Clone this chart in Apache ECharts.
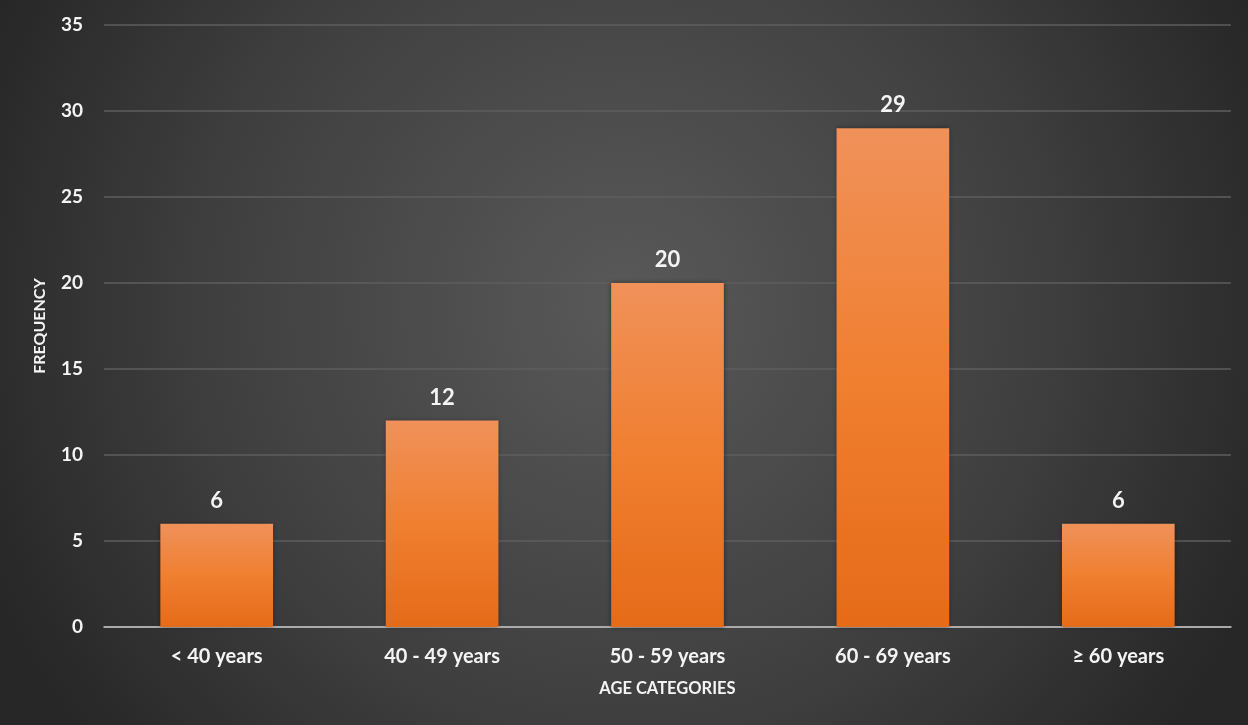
<!DOCTYPE html>
<html>
<head>
<meta charset="utf-8">
<script src="https://cdn.jsdelivr.net/npm/echarts@6/dist/echarts.min.js"></script>
<style>
  html, body { margin: 0; padding: 0; background: #2b2b2b; }
  #chart { width: 1248px; height: 725px; }
</style>
</head>
<body>
<div id="chart"></div>
<script>
// Age groups and patient counts
const categories = ['< 40 years', '40 - 49 years', '50 - 59 years', '60 - 69 years', '\u2265 60 years'];
const frequency = [6, 12, 20, 29, 6];
const yTicks = [0, 5, 10, 15, 20, 25, 30, 35];

const FONT = 'Lato, "Open Sans", "DejaVu Sans", sans-serif';
const TEXT = '#f4f4f4';
const chart = echarts.init(document.getElementById('chart'));

chart.setOption({
  backgroundColor: {
    type: 'radial', x: 0.5, y: 0.42, r: 0.95,
    colorStops: [
      { offset: 0, color: '#595959' },
      { offset: 0.6, color: '#3f3f3f' },
      { offset: 1, color: '#272727' }
    ]
  },
  animation: false,
  grid: { left: 104, right: 17, top: 25, bottom: 98 },
  xAxis: {
    type: 'category',
    data: categories,
    name: 'AGE CATEGORIES',
    nameLocation: 'middle',
    nameGap: 53,
    nameTextStyle: { color: TEXT, fontFamily: FONT, fontWeight: 'bold', fontSize: 16.5 },
    axisLine: { lineStyle: { color: '#c8c8c8', width: 1.5 } },
    axisTick: { show: false },
    axisLabel: { color: TEXT, fontFamily: FONT, fontWeight: 'bold', fontSize: 20, margin: 20 }
  },
  yAxis: {
    type: 'value',
    min: yTicks[0],
    max: yTicks[yTicks.length - 1],
    interval: yTicks[1] - yTicks[0],
    name: 'FREQUENCY',
    nameLocation: 'middle',
    nameGap: 56,
    nameRotate: 90,
    nameTextStyle: { color: TEXT, fontFamily: FONT, fontWeight: 'bold', fontSize: 16 },
    axisLine: { show: false },
    axisTick: { show: false },
    axisLabel: { color: TEXT, fontFamily: FONT, fontWeight: 'bold', fontSize: 19, margin: 21 },
    splitLine: { lineStyle: { color: '#5e5e5e', width: 1.5 } }
  },
  series: [{
    type: 'bar',
    data: frequency,
    barCategoryGap: '50%',
    itemStyle: {
      color: {
        type: 'linear', x: 0, y: 0, x2: 0, y2: 1,
        colorStops: [
          { offset: 0, color: '#f0915a' },
          { offset: 0.5, color: '#f07f30' },
          { offset: 1, color: '#e56b18' }
        ]
      },
      shadowColor: 'rgba(0,0,0,0.45)',
      shadowBlur: 5
    },
    label: {
      show: true,
      position: 'top',
      distance: 12,
      color: TEXT,
      fontFamily: FONT,
      fontWeight: 'bold',
      fontSize: 22
    }
  }]
});
</script>
</body>
</html>
